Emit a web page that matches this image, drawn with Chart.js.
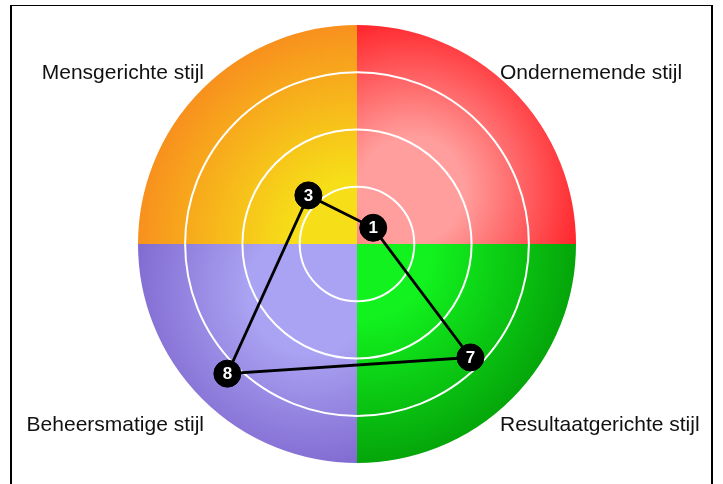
<!DOCTYPE html>
<html>
<head>
<meta charset="utf-8">
<script src="https://cdn.jsdelivr.net/npm/chart.js@4"></script>
<style>
  body { margin: 0; background: #fff; }
  #frame { position: absolute; left: 10px; top: 5px; width: 703px; height: 520px;
           border: 2px solid #000; border-top-width: 1px; box-sizing: border-box; }
  #radar { position: absolute; left: 0; top: 0; }
</style>
</head>
<body>
<div id="frame"></div>
<canvas id="radar" width="723" height="484"></canvas>
<script>
// clockwise from upper right
const categories = ['Ondernemende stijl', 'Resultaatgerichte stijl', 'Beheersmatige stijl', 'Mensgerichte stijl'];
const scores = [1, 7, 8, 3];
const scaleMax = 9.6;
const ringStep = 2.5;

// quadrant colours: [inner, outer, focus offset, gradient radius]
const quadrantColors = [
    ['rgb(255,158,156)', 'rgb(255,34,40)', 0.35, 0.8],
    ['rgb(18,242,30)', 'rgb(4,160,8)', 0.05, 1.0],
    ['rgb(170,162,242)', 'rgb(118,92,200)', 0.3, 0.95],
    ['rgb(246,222,24)', 'rgb(248,144,30)', 0.0, 1.0]
];

const quadrants = {
    id: 'quadrants',
    beforeDraw(chart) {
        const ctx = chart.ctx;
        const s = chart.scales.r;
        const R = s.getDistanceFromCenterForValue(scaleMax);
        categories.forEach((c, i) => {
            // each quadrant is centred on its axis direction
            const mid = s.getIndexAngle(i) - Math.PI / 2;
            const a0 = mid - Math.PI / 4, a1 = mid + Math.PI / 4;
            const q = quadrantColors[i];
            const fx = s.xCenter + Math.cos(mid) * R * q[2];
            const fy = s.yCenter + Math.sin(mid) * R * q[2];
            const g = ctx.createRadialGradient(fx, fy, 0, fx, fy, R * q[3]);
            g.addColorStop(0, q[0]);
            g.addColorStop(0.3, q[0]);
            g.addColorStop(1, q[1]);
            ctx.save();
            ctx.beginPath();
            ctx.moveTo(s.xCenter, s.yCenter);
            ctx.arc(s.xCenter, s.yCenter, R, a0, a1);
            ctx.closePath();
            ctx.fillStyle = g;
            ctx.fill();
            ctx.restore();
        });
    },
    afterDatasetsDraw(chart) {
        const ctx = chart.ctx;
        const meta = chart.getDatasetMeta(0);
        ctx.save();
        ctx.fillStyle = '#fff';
        ctx.font = 'bold 17px "Liberation Sans", Arial, sans-serif';
        ctx.textAlign = 'center';
        ctx.textBaseline = 'middle';
        meta.data.forEach((pt, i) => {
            ctx.fillText(String(scores[i]), pt.x, pt.y + 1);
        });
        // category labels in the corners
        const s = chart.scales.r;
        ctx.fillStyle = '#111';
        ctx.font = '21px "Liberation Sans", Arial, sans-serif';
        categories.forEach((c, i) => {
            const ang = s.getIndexAngle(i) - Math.PI / 2;
            const right = Math.cos(ang) > 0;
            const down = Math.sin(ang) > 0;
            ctx.textAlign = right ? 'left' : 'right';
            ctx.fillText(c, s.xCenter + (right ? 143 : -153), s.yCenter + (down ? 181 : -171));
        });
        ctx.restore();
    }
};

new Chart(document.getElementById('radar'), {
    type: 'radar',
    data: {
        labels: categories,
        datasets: [{
            data: scores,
            fill: false,
            borderColor: '#000',
            borderWidth: 2.8,
            tension: 0,
            pointRadius: 13.5,
            pointHoverRadius: 13.5,
            pointBackgroundColor: '#000',
            pointBorderColor: '#000',
            pointBorderWidth: 1
        }]
    },
    options: {
        responsive: false,
        devicePixelRatio: 1,
        animation: false,
        layout: { padding: { top: 24, bottom: 20, left: 0, right: 9 } },
        plugins: { legend: { display: false }, tooltip: { enabled: false } },
        scales: {
            r: {
                min: 0,
                max: scaleMax,
                startAngle: 45,
                ticks: { display: false, stepSize: ringStep },
                pointLabels: { display: false },
                angleLines: { display: false },
                grid: { circular: true, color: '#fff', lineWidth: 2 }
            }
        }
    },
    plugins: [quadrants]
});
</script>
</body>
</html>
